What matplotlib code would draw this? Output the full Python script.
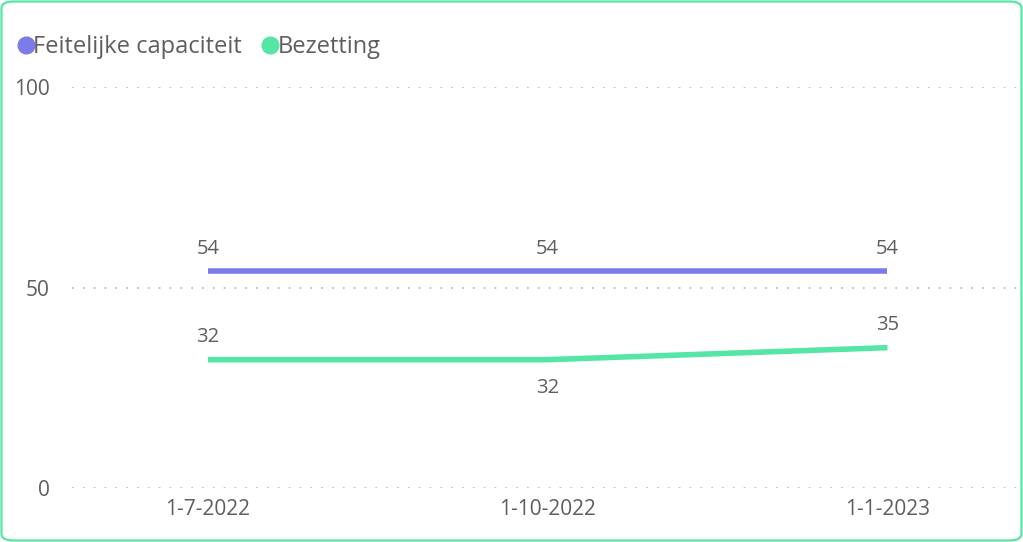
import matplotlib
matplotlib.use("Agg")
import matplotlib.pyplot as plt
from matplotlib.patches import FancyBboxPatch
from matplotlib.lines import Line2D

dates = ["1-7-2022", "1-10-2022", "1-1-2023"]
capaciteit = [54, 54, 54]
bezetting = [32, 32, 35]
yticks = [0, 50, 100]

purple = "#7B7BEA"
green = "#55E5A4"
grey = "#605E5C"

plt.rcParams["font.family"] = ["Open Sans", "DejaVu Sans"]

fig = plt.figure(figsize=(10.23, 5.42), dpi=100)
fig.patch.set_facecolor("white")

# rounded card border
border = FancyBboxPatch((1.5 / 1023, 1.5 / 542), 1 - 3 / 1023, 1 - 3 / 542,
                        boxstyle="round,pad=0,rounding_size=0.012",
                        transform=fig.transFigure, fill=False,
                        edgecolor=green, linewidth=1.6)
fig.patches.append(border)

ax = fig.add_axes([72 / 1023, 1 - 488 / 542, (1020 - 72) / 1023, (488 - 87) / 542])
x = list(range(len(dates)))
ax.plot(x, capaciteit, color=purple, linewidth=4, solid_capstyle="butt")
ax.plot(x, bezetting, color=green, linewidth=4, solid_capstyle="butt")

ax.set_xlim(-0.4, 2.39)
ax.set_ylim(0, 100)
ax.set_yticks(yticks)
ax.set_xticks(x)
ax.set_xticklabels(dates)
for s in ax.spines.values():
    s.set_visible(False)
ax.tick_params(length=0, labelsize=15, colors=grey, pad=8)
ax.tick_params(axis="y", pad=16)
ax.yaxis.grid(True, linestyle=(0, (1, 5)), color="#BEBEBE", linewidth=1.3)
ax.set_axisbelow(True)

# value labels
for xi, v in zip(x, capaciteit):
    ax.annotate(str(v), (xi, v), xytext=(0, 9), textcoords="offset points",
                ha="center", va="bottom", fontsize=14.5, color=grey)
offsets = [9, -13, 9]
for xi, v, off in zip(x, bezetting, offsets):
    ax.annotate(str(v), (xi, v), xytext=(0, off), textcoords="offset points",
                ha="center", va="bottom" if off > 0 else "top",
                fontsize=14.5, color=grey)

handles = [Line2D([], [], marker="o", linestyle="none", markersize=12,
                  markerfacecolor=c, markeredgecolor=c) for c in (purple, green)]
fig.legend(handles, ["Feitelijke capaciteit", "Bezetting"], loc="upper left",
           bbox_to_anchor=(12 / 1023, 1 - 35 / 542), ncol=2, frameon=False,
           fontsize=17, handletextpad=-0.3, columnspacing=0.6, handlelength=1.2,
           labelcolor=grey, borderaxespad=0, borderpad=0)

fig.savefig("out.png", dpi=100)
